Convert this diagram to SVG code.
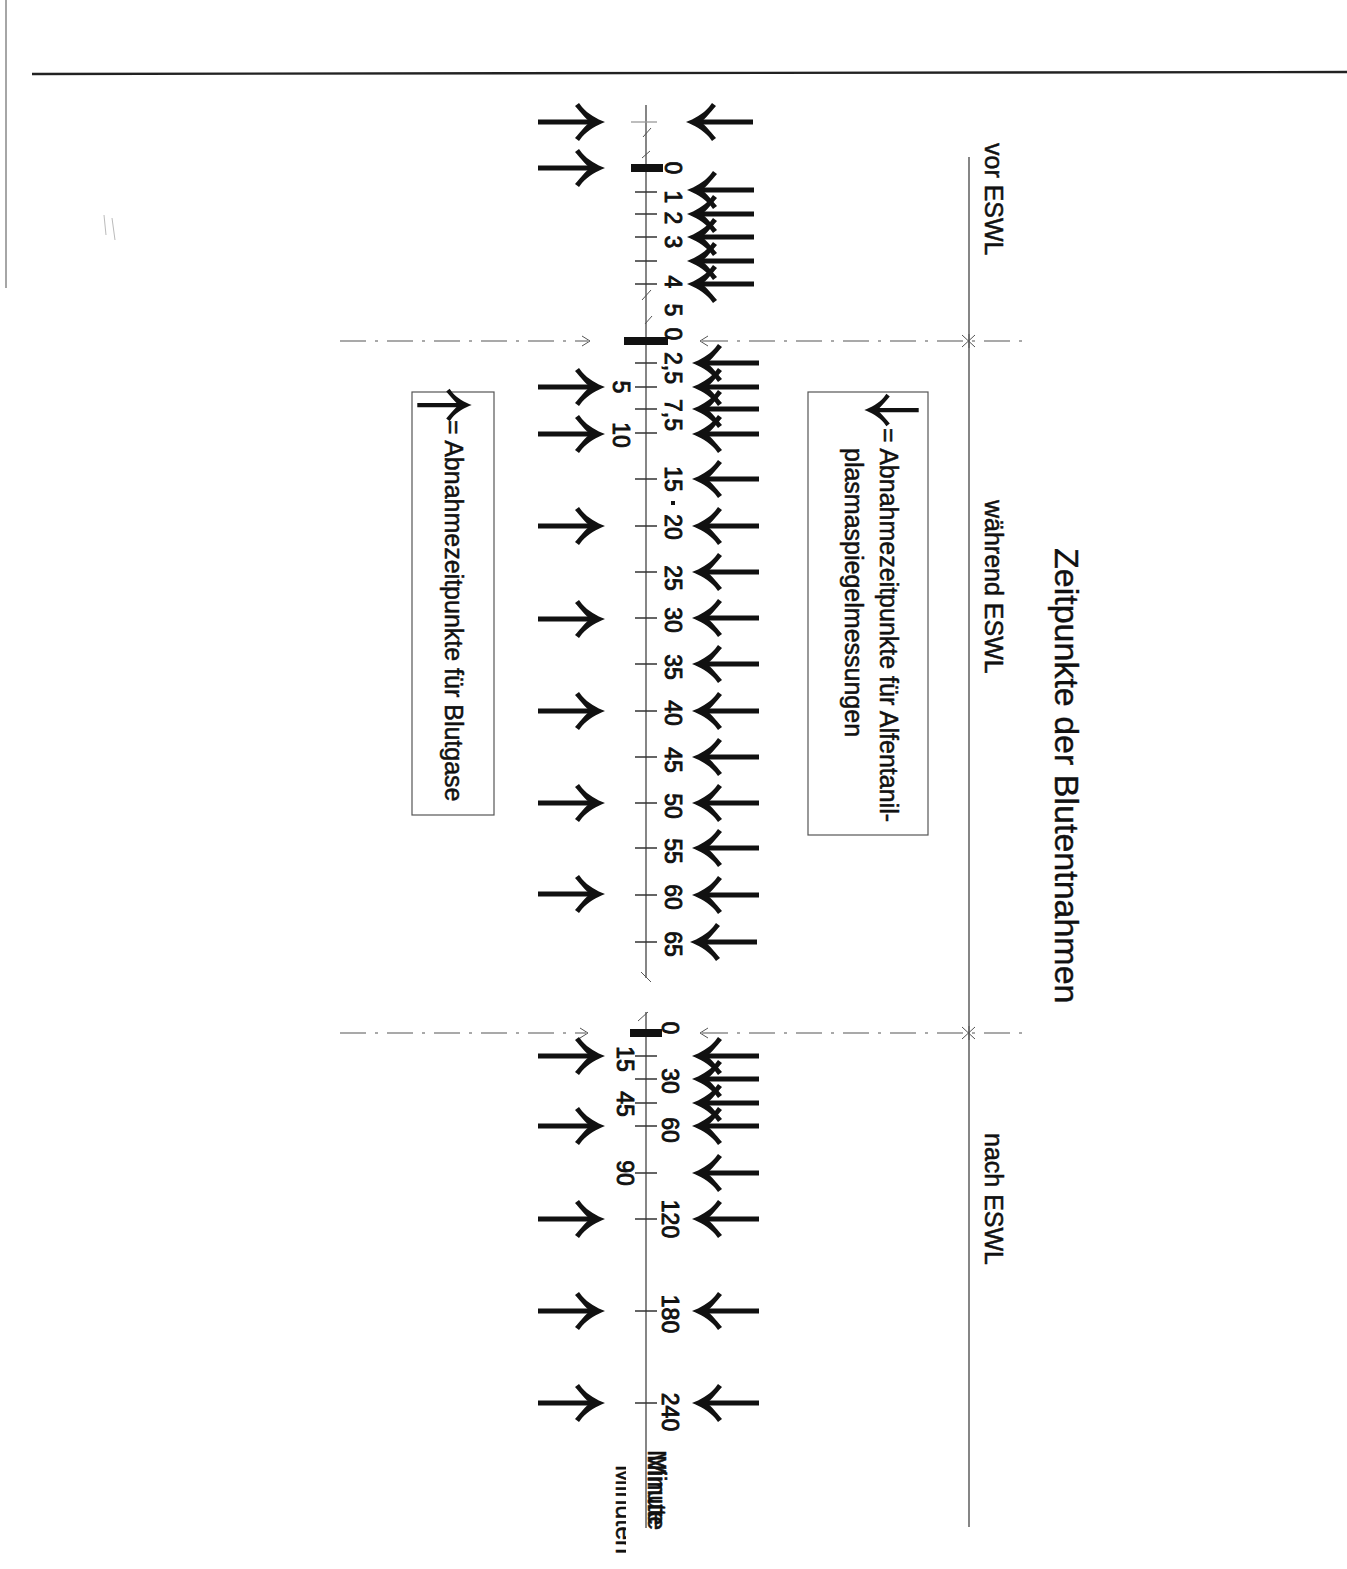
<svg xmlns="http://www.w3.org/2000/svg" xmlns:xlink="http://www.w3.org/1999/xlink" width="1347" height="1569" viewBox="0 0 1347 1569">
<style>
text{font-family:"Liberation Sans",Arial,sans-serif;fill:#111;stroke:#111;stroke-width:0.5}
.t25{font-size:25px}
.num{font-size:23px;stroke-width:0.9}
.title{font-size:34px;stroke-width:0.4}
.sh{stroke:#111;stroke-width:5;fill:none}
.hd{fill:#111}
.tick{stroke:#333;stroke-width:1.3}
.axis{stroke:#444;stroke-width:1.3;fill:none}
.sep{stroke:#555;stroke-width:1.1;fill:none;stroke-dasharray:26 9 3 9}
.thin{stroke:#555;stroke-width:1;fill:none}
.box{fill:none;stroke:#555;stroke-width:1.2}
.bar{fill:#111}
</style>
<defs>
<path id="hR" class="hd" d="M2,0 C-6,-3 -15,-8 -21,-15 L-24,-19 L-28,-16 C-22,-9 -17,-3 -13,0 C-17,3 -22,9 -28,16 L-24,19 L-21,15 C-15,8 -6,3 2,0 Z"/>
<g id="aR"><path class="sh" d="M-65,0H-8"/><use href="#hR"/></g>
<g id="aL"><use href="#aR" transform="scale(-1,1)"/></g>
<clipPath id="cutMin"><rect x="590" y="1440" width="36" height="129"/></clipPath>
</defs>
<rect width="1347" height="1569" fill="#fff"/>

<g id="frame">
<line x1="32" y1="74" x2="1347" y2="72" stroke="#222" stroke-width="2.4"/>
<line x1="6" y1="0" x2="6" y2="288" stroke="#888" stroke-width="1.5"/>
<path d="M104,215 l2,20 M112,218 l3,22" stroke="#bbb" stroke-width="1" fill="none"/>
</g>

<g id="title"><text class="title" transform="translate(1055,548) rotate(90)">Zeitpunkte der Blutentnahmen</text></g>

<g id="phase-labels">
<text class="t25" transform="translate(985,143) rotate(90)">vor ESWL</text>
<text class="t25" transform="translate(985,500) rotate(90)">während ESWL</text>
<text class="t25" transform="translate(985,1133) rotate(90)">nach ESWL</text>
</g>

<g id="connectors">
<line class="axis" x1="969" y1="157" x2="969" y2="1527"/>
<path class="sep" d="M340,341 H588"/>
<path class="sep" d="M702,341 H1025"/>
<path class="sep" d="M340,1033 H586"/>
<path class="sep" d="M702,1033 H1025"/>
<path class="thin" d="M582,336 L590,341 L582,346 M708,336 L700,341 L708,346"/>
<path class="thin" d="M580,1028 L588,1033 L580,1038 M708,1028 L700,1033 L708,1038"/>
<path class="thin" d="M962,335 L975,347 M975,335 L962,347 M969,334 V348"/>
<path class="thin" d="M962,1027 L975,1039 M975,1027 L962,1039 M969,1026 V1040"/>
</g>

<g id="axis">
<line class="axis" x1="646" y1="105" x2="646" y2="978"/>
<line class="axis" x1="646" y1="1012" x2="646" y2="1528"/>
<line x1="631" y1="122" x2="657" y2="122" stroke="#999" stroke-width="1.3"/>
<path class="thin" d="M643,137 L651,128 M642,158 L650,151 M642,300 L651,290 M645,324 L652,316 M638,1021 L648,1012 M641,972 L651,982"/>
<rect class="bar" x="631" y="164" width="32" height="8"/>
<rect class="bar" x="624" y="337" width="44" height="8"/>
<rect class="bar" x="630" y="1029" width="32" height="8"/>
<path class="tick" d="M635,192H657M635,214H657M635,237H657M635,261H657M635,284H657
M635,363H657M635,387H657M635,409H657M635,433H657M635,479H657M635,526H657M635,572H657M635,618H657M635,664H657M635,711H657M635,757H657M635,803H657M635,848H657M635,895H657M635,942H657
M635,1056H657M635,1079H657M635,1103H657M635,1126H657M635,1173H657M635,1219H657M635,1311H657M635,1403H657"/>
<rect x="671" y="501" width="4" height="4" fill="#111"/>
</g>

<g id="scale-labels" text-anchor="middle">
<text class="num" transform="translate(665,168) rotate(90)">0</text>
<text class="num" transform="translate(665,197) rotate(90)">1</text>
<text class="num" transform="translate(665,218) rotate(90)">2</text>
<text class="num" transform="translate(665,242) rotate(90)">3</text>
<text class="num" transform="translate(665,282) rotate(90)">4</text>
<text class="num" transform="translate(665,310) rotate(90)">5</text>
<text class="num" transform="translate(665,334) rotate(90)">0</text>
<text class="num" transform="translate(665,368) rotate(90)">2,5</text>
<text class="num" transform="translate(665,415) rotate(90)">7,5</text>
<text class="num" transform="translate(665,479) rotate(90)">15</text>
<text class="num" transform="translate(665,527) rotate(90)">20</text>
<text class="num" transform="translate(665,578) rotate(90)">25</text>
<text class="num" transform="translate(665,620) rotate(90)">30</text>
<text class="num" transform="translate(665,667) rotate(90)">35</text>
<text class="num" transform="translate(665,713) rotate(90)">40</text>
<text class="num" transform="translate(665,760) rotate(90)">45</text>
<text class="num" transform="translate(665,806) rotate(90)">50</text>
<text class="num" transform="translate(665,851) rotate(90)">55</text>
<text class="num" transform="translate(665,897) rotate(90)">60</text>
<text class="num" transform="translate(665,944) rotate(90)">65</text>
<text class="num" transform="translate(613,387) rotate(90)">5</text>
<text class="num" transform="translate(613,435) rotate(90)">10</text>
<text class="num" transform="translate(662,1028) rotate(90)">0</text>
<text class="num" transform="translate(662,1081) rotate(90)">30</text>
<text class="num" transform="translate(662,1130) rotate(90)">60</text>
<text class="num" transform="translate(662,1219) rotate(90)">120</text>
<text class="num" transform="translate(662,1314) rotate(90)">180</text>
<text class="num" transform="translate(662,1412) rotate(90)">240</text>
<text class="num" transform="translate(617,1059) rotate(90)">15</text>
<text class="num" transform="translate(617,1104) rotate(90)">45</text>
<text class="num" transform="translate(617,1173) rotate(90)">90</text>
</g>

<g id="unit-label">
<text class="t25" transform="translate(648,1450) rotate(90)">Minute</text>
<text class="t25" transform="translate(648,1455) rotate(90)">Minute</text>
<g clip-path="url(#cutMin)"><text class="t25" transform="translate(616,1465) rotate(90)">Minuten</text></g>
</g>

<g id="arrows-alfentanil">
<use href="#aL" x="688" y="122"/>
<use href="#aL" x="689" y="190"/>
<use href="#aL" x="689" y="214"/>
<use href="#aL" x="689" y="237"/>
<use href="#aL" x="689" y="261"/>
<use href="#aL" x="689" y="284"/>
<use href="#aL" x="694" y="363"/>
<use href="#aL" x="694" y="387"/>
<use href="#aL" x="694" y="409"/>
<use href="#aL" x="694" y="434"/>
<use href="#aL" x="694" y="479"/>
<use href="#aL" x="694" y="526"/>
<use href="#aL" x="694" y="572"/>
<use href="#aL" x="694" y="618"/>
<use href="#aL" x="694" y="664"/>
<use href="#aL" x="694" y="711"/>
<use href="#aL" x="694" y="757"/>
<use href="#aL" x="694" y="803"/>
<use href="#aL" x="694" y="848"/>
<use href="#aL" x="694" y="895"/>
<use href="#aL" x="692" y="942"/>
<use href="#aL" x="694" y="1056"/>
<use href="#aL" x="694" y="1079"/>
<use href="#aL" x="694" y="1103"/>
<use href="#aL" x="694" y="1126"/>
<use href="#aL" x="694" y="1173"/>
<use href="#aL" x="694" y="1219"/>
<use href="#aL" x="694" y="1311"/>
<use href="#aL" x="694" y="1403"/>
</g>

<g id="arrows-blutgase">
<use href="#aR" x="603" y="122"/>
<use href="#aR" x="603" y="168"/>
<use href="#aR" x="603" y="387"/>
<use href="#aR" x="603" y="434"/>
<use href="#aR" x="603" y="526"/>
<use href="#aR" x="603" y="619"/>
<use href="#aR" x="603" y="711"/>
<use href="#aR" x="603" y="803"/>
<use href="#aR" x="603" y="894"/>
<use href="#aR" x="603" y="1056"/>
<use href="#aR" x="603" y="1126"/>
<use href="#aR" x="603" y="1219"/>
<use href="#aR" x="603" y="1311"/>
<use href="#aR" x="603" y="1403"/>
</g>

<g id="legend-alfentanil">
<rect class="box" x="808" y="392" width="120" height="443"/>
<g transform="translate(866,410) scale(0.85)"><path class="sh" d="M6,0H62"/><use href="#hR" transform="scale(-1,1)"/></g>
<text class="t25" transform="translate(880,428) rotate(90)">= Abnahmezeitpunkte für Alfentanil-</text>
<text class="t25" transform="translate(845,448) rotate(90)">plasmaspiegelmessungen</text>
</g>

<g id="legend-blutgase">
<rect class="box" x="412" y="392" width="82" height="423"/>
<g transform="translate(470,405) scale(0.85)"><path class="sh" d="M-62,0H-6"/><use href="#hR"/></g>
<text class="t25" transform="translate(445,420) rotate(90)">= Abnahmezeitpunkte für Blutgase</text>
</g>
</svg>
